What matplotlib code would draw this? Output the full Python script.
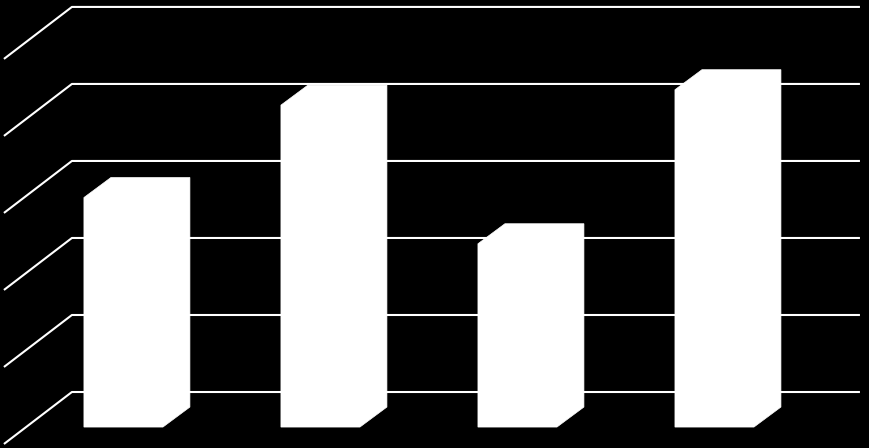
import matplotlib
matplotlib.use("Agg")
import matplotlib.pyplot as plt
from matplotlib.patches import Polygon

# data
categories = ["A", "B", "C", "D"]
values = [2.98, 4.18, 2.38, 4.38]
grid_ticks = [0, 1, 2, 3, 4, 5]

# 3d look (data units)
bar_front_w = 0.401   # front face width
depth_dx, depth_dy = 0.137, 0.26    # bar depth offset (front -> back)
front_floor = -0.455  # floor level of bar front faces
wall_left, wall_right = -0.33, 3.67
side_dx, side_dy = -0.345, -0.675  # side wall diagonal

fig = plt.figure(figsize=(8.69, 4.48), dpi=100, facecolor="black")
ax = fig.add_axes([0, 0, 1, 1])
ax.set_facecolor("black")
ax.set_xlim(-0.695, 3.716)
ax.set_ylim(-0.727, 5.09)
ax.axis("off")

# gridlines on back wall + side wall
for g in grid_ticks:
    ax.plot([wall_left + side_dx, wall_left, wall_right],
            [g + side_dy, g, g], color="white", lw=1.5, zorder=1,
            solid_capstyle="butt")

# bars
for i, v in enumerate(values):
    fl = i - (bar_front_w + depth_dx) / 2
    fr = fl + bar_front_w
    pts = [(fl, front_floor), (fl, front_floor + v),
           (fl + depth_dx, front_floor + v + depth_dy),
           (fr + depth_dx, front_floor + v + depth_dy),
           (fr + depth_dx, front_floor + depth_dy),
           (fr, front_floor)]
    ax.add_patch(Polygon(pts, closed=True, facecolor="white",
                         edgecolor="white", lw=0.5, zorder=2))

fig.savefig("out.png", dpi=100, facecolor="black")
